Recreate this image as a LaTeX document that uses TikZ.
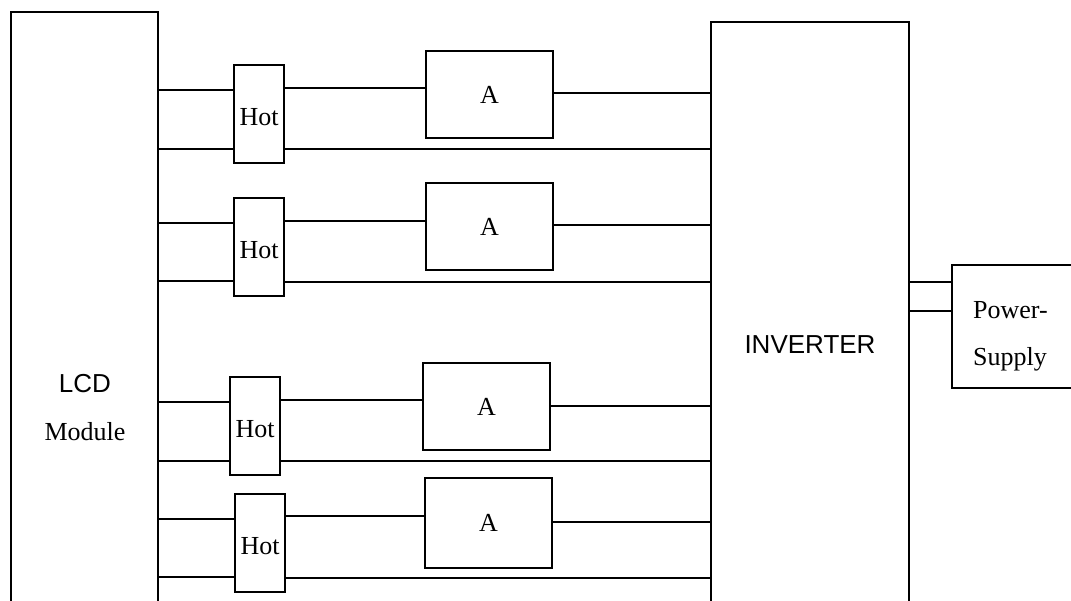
\documentclass[tikz,border=0pt]{standalone}
\usepackage{fontspec}
\setmainfont{Liberation Serif}
\setsansfont{Liberation Sans}

\tikzset{
  blk/.style={draw, line width=1.8pt, inner sep=0pt, outer sep=0pt},
  hotbox/.style={blk, minimum width=50pt, minimum height=98pt, text height=24pt},
  abox/.style={blk, minimum width=127pt, minimum height=87pt},
  lbl/.style={font=\fontsize{26}{30}\selectfont, inner sep=0pt},
  wire/.style={line width=1.8pt}
}

\begin{document}
\begin{tikzpicture}[x=1pt, y=-1pt, every node/.style={font=\fontsize{26}{30}\selectfont}]
\useasboundingbox (0,0) rectangle (1071,601);
% big blocks, cut off at the bottom
\node[blk, anchor=north west, minimum width=147pt, minimum height=640pt] (lcd) at (11,12) {};
\node[blk, anchor=north west, minimum width=198pt, minimum height=640pt] (inv) at (711,22) {};
\node[blk, anchor=north west, minimum width=130pt, minimum height=123pt] (ps) at (952,265) {};
\node[lbl, anchor=base] (lcdtop) at (85,392) {\sffamily LCD};
\node[lbl, anchor=base] (lcdbot) at (85,440) {Module};
\node[lbl, anchor=base] (invtxt) at (810,354) {\sffamily INVERTER};
\node[lbl, anchor=base west] (pstop) at (973,319) {Power-};
\node[lbl, anchor=base west] (psbot) at (973,366) {Supply};
% hot boxes
\node[hotbox] (h1) at (259,114) {Hot};
\node[hotbox] (h2) at (259,247) {Hot};
\node[hotbox] (h3) at (255,426) {Hot};
\node[hotbox] (h4) at (260,543) {Hot};
% A boxes
\node[abox] (a1) at (489.5,94.5) {A};
\node[abox] (a2) at (489.5,226.5) {A};
\node[abox] (a3) at (486.5,406.5) {A};
\node[abox, minimum height=90pt] (a4) at (488.5,523) {A};
% wires
\foreach \n/\ya/\yb/\yc/\yd/\ye in {1/90/149/88/93/149, 2/223/281/221/225/282, 3/402/461/400/406/461, 4/519/577/516/522/578} {
  \draw[wire] (lcd.east |- 0,\ya) -- (h\n.west |- 0,\ya);
  \draw[wire] (lcd.east |- 0,\yb) -- (h\n.west |- 0,\yb);
  \draw[wire] (h\n.east |- 0,\yc) -- (a\n.west |- 0,\yc);
  \draw[wire] (a\n.east |- 0,\yd) -- (inv.west |- 0,\yd);
  \draw[wire] (h\n.east |- 0,\ye) -- (inv.west |- 0,\ye);
}
\draw[wire] (inv.east |- 0,282) -- (ps.west |- 0,282);
\draw[wire] (inv.east |- 0,311) -- (ps.west |- 0,311);
\end{tikzpicture}
\end{document}
